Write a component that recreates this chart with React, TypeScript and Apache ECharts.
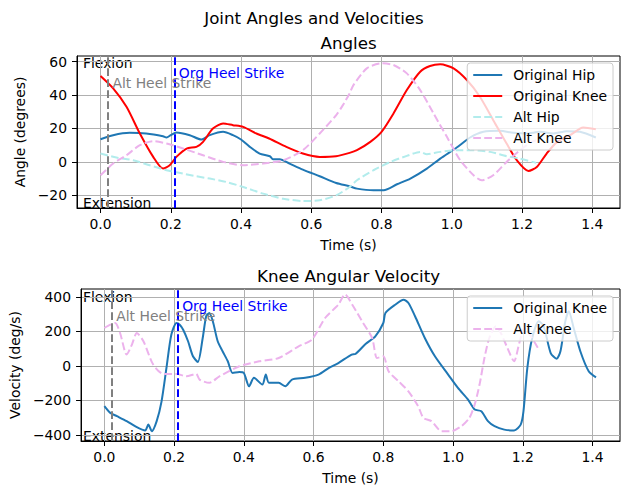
import { useEffect, useRef } from "react";
import * as echarts from "echarts";

const FONT = "DejaVu Sans";

// heel strike events (s)
const ALT_HEEL = 0.024;
const ORG_HEEL = 0.213;

const timeTicks = [0, 0.2, 0.4, 0.6, 0.8, 1.0, 1.2, 1.4];
const angleTicks = [-20, 0, 20, 40, 60];
const velTicks = [-400, -200, 0, 200, 400];

// [time, angle in degrees]
const origHip: [number, number][] = [
  [0, 13.6], [0.036, 16], [0.083, 17.4], [0.13, 17], [0.178, 15.4], [0.188, 14.6], [0.2, 16],
  [0.216, 17.6], [0.254, 16], [0.287, 13.4], [0.311, 16], [0.349, 18], [0.377, 16], [0.4, 13.4],
  [0.425, 9], [0.453, 5], [0.482, 3.4], [0.491, 1.6], [0.51, 1.6], [0.538, -1], [0.576, -4.6],
  [0.624, -8.6], [0.671, -12.6], [0.709, -14.6], [0.73, -16], [0.777, -17], [0.806, -17],
  [0.844, -13.4], [0.882, -10], [0.929, -4], [0.967, 2], [1.014, 8.6], [1.052, 14.6], [1.09, 18],
  [1.137, 18.6], [1.175, 17.4], [1.213, 17], [1.251, 18], [1.289, 17], [1.327, 18.4], [1.365, 18],
  [1.41, 14.6],
];

const origKnee: [number, number][] = [
  [0, 51.4], [0.036, 44], [0.074, 33], [0.112, 17], [0.15, 3], [0.178, -4], [0.197, -2],
  [0.216, 3], [0.245, 8], [0.273, 9], [0.292, 12], [0.32, 20], [0.349, 23], [0.377, 22],
  [0.406, 21], [0.444, 17], [0.48, 14], [0.529, 9], [0.576, 5], [0.624, 3], [0.67, 3.4],
  [0.709, 5.4], [0.73, 7], [0.768, 12], [0.8, 18], [0.834, 29], [0.872, 43], [0.91, 54],
  [0.938, 57.4], [0.967, 58.4], [1.005, 56], [1.043, 49], [1.08, 39], [1.118, 25], [1.156, 11],
  [1.185, 1], [1.218, -5.4], [1.242, -3], [1.27, 5], [1.3, 12], [1.337, 16], [1.374, 20.6],
  [1.41, 19.6],
];

const altHip: [number, number][] = [
  [0, 5], [0.045, 2.6], [0.093, 1], [0.14, -2], [0.188, -5], [0.235, -7], [0.273, -8.6],
  [0.311, -10], [0.358, -12], [0.406, -15], [0.463, -19], [0.52, -22], [0.576, -23.4],
  [0.624, -23], [0.671, -20], [0.709, -15], [0.73, -11], [0.777, -5], [0.825, 0], [0.872, 3.6],
  [0.91, 6], [0.929, 4.6], [0.967, 6], [1.014, 7], [1.062, 7], [1.109, 6], [1.156, 3.4],
  [1.194, 2], [1.24, -0.6],
];

const altKnee: [number, number][] = [
  [0, -8], [0.036, -1], [0.074, 4], [0.112, 10], [0.15, 12.4], [0.188, 11], [0.235, 8],
  [0.292, 4], [0.349, 0], [0.406, -2], [0.463, -1], [0.52, 1], [0.576, 7], [0.624, 17],
  [0.671, 28], [0.69, 34], [0.709, 41], [0.72, 46], [0.758, 56], [0.8, 59], [0.834, 58],
  [0.872, 53], [0.91, 43], [0.948, 29], [0.986, 15], [1.024, 1], [1.062, -8], [1.085, -11],
  [1.118, -8], [1.156, 0], [1.194, 7], [1.227, 12], [1.24, 13],
];

// [time, angular velocity in deg/s]
const origKneeVel: [number, number][] = [
  [0, -233], [0.017, -272], [0.036, -291], [0.064, -320], [0.093, -355], [0.117, -374],
  [0.126, -340], [0.136, -378], [0.15, -320], [0.164, -205], [0.178, -12], [0.192, 181],
  [0.207, 249], [0.216, 239], [0.226, 210], [0.24, 143], [0.254, 56], [0.268, 23], [0.282, 162],
  [0.292, 288], [0.301, 307], [0.311, 259], [0.325, 143], [0.339, 85], [0.354, 27], [0.368, -41],
  [0.387, -35], [0.4, -41], [0.415, -118], [0.429, -69], [0.453, -108], [0.463, -50],
  [0.472, -98], [0.5, -98], [0.519, -118], [0.538, -79], [0.576, -69], [0.614, -50],
  [0.643, -12], [0.671, 17], [0.709, 66], [0.72, 69], [0.749, 127], [0.777, 172], [0.8, 249],
  [0.806, 307], [0.834, 355], [0.858, 384], [0.872, 365], [0.891, 288], [0.919, 162],
  [0.948, 56], [0.986, -50], [1.014, -127], [1.043, -195], [1.062, -253], [1.081, -262],
  [1.1, -320], [1.119, -349], [1.147, -369], [1.175, -374], [1.194, -340], [1.202, -262],
  [1.213, -12], [1.227, 162], [1.246, 259], [1.26, 230], [1.28, 75], [1.297, 42], [1.308, 85],
  [1.322, 259], [1.332, 317], [1.346, 220], [1.365, 85], [1.389, -31], [1.41, -66],
];

const altKneeVel: [number, number][] = [
  [0, 220], [0.017, 239], [0.031, 249], [0.045, 191], [0.064, 66], [0.079, 124], [0.093, 191],
  [0.112, 143], [0.14, 8], [0.169, -46], [0.207, -46], [0.235, -60], [0.263, -46], [0.273, -79],
  [0.301, -98], [0.33, -60], [0.387, -2], [0.444, 27], [0.5, 46], [0.557, 114], [0.595, 152],
  [0.633, 278], [0.671, 355], [0.69, 415], [0.711, 355], [0.739, 259], [0.768, 162],
  [0.782, 46], [0.8, 56], [0.815, -31], [0.844, -89], [0.872, -147], [0.9, -234], [0.915, -301],
  [0.938, -320], [0.967, -378], [0.995, -378], [1.024, -349], [1.047, -301], [1.062, -224],
  [1.076, -108], [1.09, 46], [1.104, 162], [1.123, 230], [1.137, 191], [1.156, 104],
  [1.175, 27], [1.19, 133], [1.204, 220], [1.223, 172], [1.246, 95],
];

const BLUE = "#1f77b4";
const RED = "#ff0000";
const ALT_HIP_C = "#b2ecec";
const ALT_KNEE_C = "#ecb2ec";
const DASH = [7.7, 3.3];

const fmt = (v: number, d: number) => (v < 0 ? "\u2212" : "") + Math.abs(v).toFixed(d);

const txt = { color: "#000", fontSize: 13.9, fontFamily: FONT };

function xAxis(gridIndex: number) {
  return {
    type: "value",
    gridIndex,
    min: -0.0669,
    max: 1.4788,
    splitNumber: 8,
    name: "Time (s)",
    nameLocation: "middle",
    nameGap: 30,
    nameTextStyle: txt,
    axisLine: { show: true, onZero: false, lineStyle: { color: "#000", width: 1 } },
    axisTick: { show: true, length: 5, lineStyle: { color: "#000" }, customValues: timeTicks },
    axisLabel: { ...txt, margin: 9, customValues: timeTicks, formatter: (v: number) => fmt(v, 1) },
    splitLine: { show: true, lineStyle: { color: "#b0b0b0", width: 1 } },
  };
}

function yAxis(gridIndex: number, name: string, min: number, max: number, ticks: number[], gap: number) {
  return {
    type: "value",
    gridIndex,
    min,
    max,
    name,
    nameLocation: "middle",
    nameGap: gap,
    nameTextStyle: txt,
    axisLine: { show: true, onZero: false, lineStyle: { color: "#000", width: 1 } },
    axisTick: { show: true, length: 5, lineStyle: { color: "#000" }, customValues: ticks },
    axisLabel: { ...txt, margin: 10, customValues: ticks, formatter: (v: number) => fmt(v, 0) },
    splitLine: { show: true, lineStyle: { color: "#b0b0b0", width: 1 } },
  };
}

function line(name: string, idx: number, data: [number, number][], color: string, dashed: boolean) {
  return {
    type: "line",
    name,
    xAxisIndex: idx,
    yAxisIndex: idx,
    data,
    symbol: "none",
    showSymbol: false,
    smooth: 0.25,
    silent: true,
    itemStyle: { color },
    lineStyle: { color, width: 2, type: dashed ? DASH : "solid" },
  };
}

function heelMarks(altY: number, orgY: number) {
  return {
    markLine: {
      silent: true,
      symbol: ["none", "none"],
      label: { show: false },
      data: [
        { xAxis: ALT_HEEL, lineStyle: { color: "#808080", width: 2, type: DASH } },
        { xAxis: ORG_HEEL, lineStyle: { color: "#0000ff", width: 2, type: DASH } },
      ],
    },
    markPoint: {
      silent: true,
      symbol: "circle",
      symbolSize: 0,
      data: [
        {
          coord: [ALT_HEEL + 0.01, altY],
          label: { show: true, position: "right", distance: 0, formatter: "Alt Heel Strike", ...txt, color: "#808080" },
        },
        {
          coord: [ORG_HEEL + 0.01, orgY],
          label: { show: true, position: "right", distance: 0, formatter: "Org Heel Strike", ...txt, color: "#0000ff" },
        },
      ],
    },
  };
}

// the line series legend icon draws a circle even with symbol "none": hide it
function legendItem(name: string, color: string, dashed: boolean) {
  return {
    name,
    itemStyle: { color, opacity: 0 },
    lineStyle: { color, width: 2, type: dashed ? DASH : "solid", opacity: 1 },
  };
}

const legendBase = {
  orient: "vertical",
  right: 17,
  padding: [5, 6, 5, 5],
  itemWidth: 29,
  itemHeight: 14,
  itemGap: 7,
  backgroundColor: "rgba(255,255,255,0.8)",
  borderColor: "#cccccc",
  borderWidth: 1,
  borderRadius: 3,
  textStyle: { ...txt, padding: [0, 0, 0, 6] },
  selectedMode: false,
};

function gtext(x: number, y: number, text: string, size: number, align: string, valign: string) {
  return {
    type: "text",
    x,
    y,
    silent: true,
    style: { text, fontSize: size, fontFamily: FONT, fill: "#000", align, verticalAlign: valign },
  };
}

export default function App() {
  const ref = useRef<HTMLDivElement>(null);

  useEffect(() => {
    document.body.style.margin = "0";
    if (!ref.current) return;
    const chart = echarts.init(ref.current, null, { renderer: "svg" });
    chart.setOption({
      animation: false,
      backgroundColor: "#fff",
      grid: [
        { left: 77, right: 10, top: 56, height: 152, show: true, borderColor: "#000", borderWidth: 1 },
        { left: 77, right: 10, top: 289, height: 152, show: true, borderColor: "#000", borderWidth: 1 },
      ],
      xAxis: [xAxis(0), xAxis(1)],
      yAxis: [
        yAxis(0, "Angle (degrees)", -27.6, 63.4, angleTicks, 45),
        yAxis(1, "Velocity (deg/s)", -435, 446, velTicks, 53),
      ],
      legend: [
        {
          ...legendBase,
          top: 63,
          data: [
            legendItem("Original Hip", BLUE, false),
            legendItem("Original Knee", RED, false),
            legendItem("Alt Hip", ALT_HIP_C, true),
            legendItem("Alt Knee", ALT_KNEE_C, true),
          ],
        },
        {
          ...legendBase,
          top: 296,
          data: [legendItem("Original Knee", BLUE, false), legendItem("Alt Knee", ALT_KNEE_C, true)],
        },
      ],
      series: [
        line("Original Hip", 0, origHip, BLUE, false),
        line("Original Knee", 0, origKnee, RED, false),
        line("Alt Hip", 0, altHip, ALT_HIP_C, true),
        { ...line("Alt Knee", 0, altKnee, ALT_KNEE_C, true), ...heelMarks(47, 53) },
        line("Original Knee", 1, origKneeVel, BLUE, false),
        { ...line("Alt Knee", 1, altKneeVel, ALT_KNEE_C, true), ...heelMarks(288, 346) },
      ],
      graphic: [
        gtext(314, 18, "Joint Angles and Velocities", 16.7, "center", "middle"),
        gtext(348.6, 43, "Angles", 16.7, "center", "middle"),
        gtext(348.6, 276, "Knee Angular Velocity", 16.7, "center", "middle"),
        gtext(83, 56, "Flexion", 13.9, "left", "top"),
        gtext(83, 210, "Extension", 13.9, "left", "bottom"),
        gtext(83, 289.5, "Flexion", 13.9, "left", "top"),
        gtext(83, 443, "Extension", 13.9, "left", "bottom"),
      ],
    });
    return () => chart.dispose();
  }, []);

  return <div ref={ref} style={{ width: 630, height: 494 }} />;
}
